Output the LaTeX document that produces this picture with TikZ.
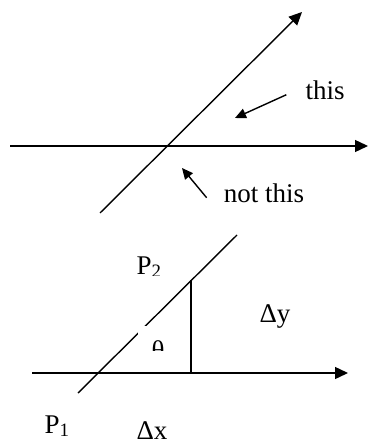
\documentclass[tikz,border=0pt]{standalone}
\usepackage{fontspec}
\setmainfont{Liberation Serif}
\usetikzlibrary{arrows.meta}
\begin{document}
\begin{tikzpicture}[x=1bp, y=-1bp,
  slpaxis/.style = {line width=1.4bp, -{Triangle[length=13bp,width=12bp]}},
  slpline/.style = {line width=1.4bp},
  slppoint/.style = {line width=1.4bp, -{Triangle[length=11bp,width=10bp]}},
  slplbl/.style = {font=\fontsize{27bp}{32bp}\selectfont, inner sep=0pt, anchor=base}
]
  \useasboundingbox (0,0) rectangle (369,445);
  % upper figure: which angle is meant
  \coordinate (axAw) at (10,146);
  \coordinate (axAe) at (368,146);
  \coordinate (lnAs) at (100,213);
  \coordinate (lnAe) at (302,12);
  \draw[slpaxis] (axAw) -- (axAe);
  \draw[slpaxis] (lnAs) -- (lnAe);
  \node[slplbl] (this) at (325,100) {this};
  \node[slplbl] (notthis) at (264,203) {not this};
  \coordinate (thistip) at (235,118);
  \coordinate (notthistip) at (182,168);
  \draw[slppoint] ([xshift=-19bp,yshift=-4bp]this.west) -- (thistip);
  \draw[slppoint] ([xshift=-17bp,yshift=-4bp]notthis.west) -- (notthistip);
  % lower figure: rise over run
  \coordinate (axBw) at (32,373);
  \coordinate (axBe) at (348,373);
  \coordinate (lnBs) at (78,393);
  \coordinate (lnBe) at (237,235);
  \coordinate (rise) at (191,280);
  \coordinate (foot) at (191,373);
  \draw[slpaxis] (axBw) -- (axBe);
  \draw[slpline] (lnBs) -- (lnBe);
  \draw[slpline] (rise) -- (foot);
  \begin{scope}
    \clip (120,240) rectangle (200,275);
    \node[slplbl] (ptwo) at (149,274) {P\textsubscript{2}};
  \end{scope}
  \node[slplbl] (dy) at (275,322) {Δy};
  \begin{scope}
    \clip (138,326) rectangle (178,350);
    \fill[white] (138,326) rectangle (178,350);
    \node[slplbl] (theta) at (158,359) {θ};
  \end{scope}
  \node[slplbl] (pone) at (57,433) {P\textsubscript{1}};
  \node[slplbl] (dx) at (152,439) {Δx};
\end{tikzpicture}
\end{document}
